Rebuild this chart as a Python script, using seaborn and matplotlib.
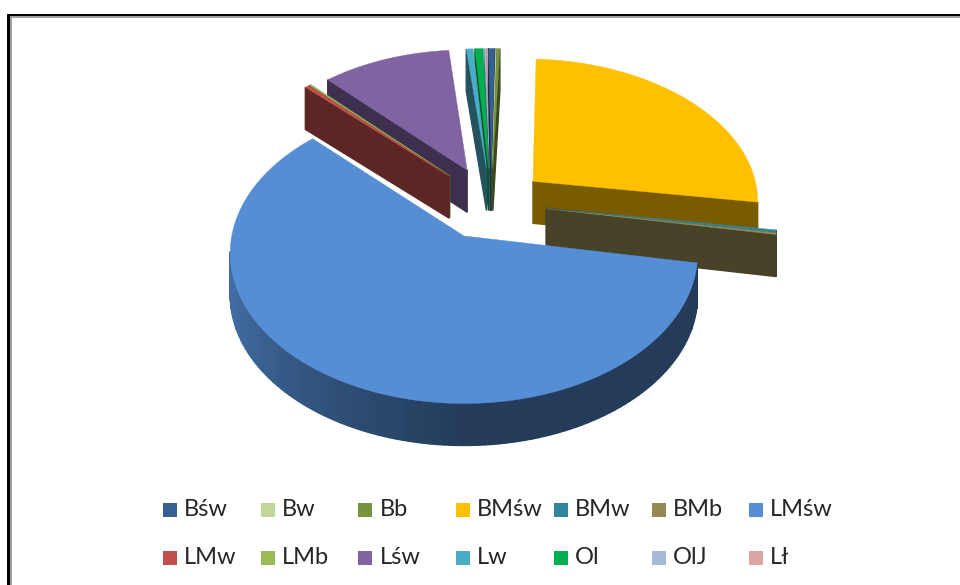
import numpy as np
import matplotlib
matplotlib.use("Agg")
import matplotlib.pyplot as plt
from matplotlib.patches import Polygon, Rectangle
import seaborn as sns

# Share of each stand type, in percent, clockwise from 12 o'clock
categories = ["Bśw", "Bw", "Bb", "BMśw", "BMw", "BMb", "LMśw",
              "LMw", "LMb", "Lśw", "Lw", "Ol", "OlJ", "Lł"]
shares = [0.5, 0.05, 0.25, 26.6, 0.25, 0.2, 59.7,
          0.35, 0.15, 10.5, 0.55, 0.65, 0.12, 0.12]
colors = ["#376092", "#C3D69B", "#77933C", "#FFC000", "#31859C", "#948A54", "#558ED5",
          "#C0504D", "#9BBB59", "#8064A2", "#4BACC6", "#00B050", "#A6B9D8", "#D9A5A5"]
explode = [0.25, 0.25, 0.25, 0.245, 0.245, 0.245, 0.26,
           0.27, 0.27, 0.26, 0.25, 0.25, 0.25, 0.25]

sns.set_theme(style="white")
palette = sns.color_palette(colors)

fig = plt.figure(figsize=(9.6, 5.85), dpi=100)
ax = fig.add_axes([0, 0, 1, 1])
ax.set_xlim(0, 960)
ax.set_ylim(585, 0)
ax.axis("off")

# Perspective view of the pie plane, with a flat extrusion for the thickness
PERSP = 0.115
THICK = 42.0
PIE_CENTRE = np.array([0.125, 0.2235])


def project(u, v):
    w = 1 + PERSP * v
    return 463 + 232 * u / w, 235 - 148 * v / w


def shaded(rgb, factor):
    return tuple(np.clip(np.array(rgb) * factor, 0, 1))


def draw_slice(start, stop, offset, rgb):
    mid = np.radians((start + stop) / 2)
    apex = PIE_CENTRE + offset * np.array([np.sin(mid), np.cos(mid)])
    steps = max(2, int((stop - start) / 1.5) + 1)
    theta = np.radians(np.linspace(start, stop, steps))
    u = np.r_[apex[0], apex[0] + np.sin(theta)]
    v = np.r_[apex[1], apex[1] + np.cos(theta)]
    x, y = project(u, v)
    n = len(x)
    # Walk the outline clockwise on screen; only faces looking down are visible
    for i in range(n):
        j = (i + 1) % n
        ex, ey = x[j] - x[i], y[j] - y[i]
        length = np.hypot(ex, ey)
        if length == 0:
            continue
        nx, ny = ey / length, -ex / length
        if ny <= 0:
            continue
        if i == 0 or j == 0:
            factor = 0.48
        else:
            factor = 0.42 + 0.35 * max(0.0, -nx)
        tone = shaded(rgb, factor)
        ax.add_patch(Polygon([(x[i], y[i]), (x[j], y[j]),
                              (x[j], y[j] + THICK), (x[i], y[i] + THICK)],
                             closed=True, facecolor=tone, edgecolor=tone, lw=1.0))
    ax.add_patch(Polygon(np.c_[x, y], closed=True, facecolor=rgb, edgecolor=rgb, lw=0.3))


edges = np.r_[0, np.cumsum(shares)] / np.sum(shares) * 360
slices = list(zip(edges[:-1], edges[1:], explode, palette))
# Paint from the back of the plate to the front
slices.sort(key=lambda s: -np.cos(np.radians((s[0] + s[1]) / 2)))
for start, stop, offset, rgb in slices:
    draw_slice(start, stop, offset, rgb)

# Legend laid out on an even grid of seven columns
for i, (name, rgb) in enumerate(zip(categories, palette)):
    col, row = i % 7, i // 7
    left = 163 + 97.7 * col
    mid_y = 510 + 48 * row
    ax.add_patch(Rectangle((left, mid_y - 7), 14, 14, facecolor=rgb, edgecolor="none"))
    ax.text(left + 21, mid_y, name, family="Lato", fontsize=17, color="#262626",
            va="center", ha="left")

# Double frame along the top and left of the plot area
ax.add_patch(Rectangle((7.3, 14), 960, 2.4, facecolor="black", edgecolor="none"))
ax.add_patch(Rectangle((7.3, 14), 2.4, 580, facecolor="black", edgecolor="none"))
ax.add_patch(Rectangle((9.7, 16.4), 960, 2, facecolor="#a0a0a0", edgecolor="none"))
ax.add_patch(Rectangle((9.7, 16.4), 2, 580, facecolor="#a0a0a0", edgecolor="none"))

fig.savefig("out.png", dpi=100, facecolor="white")
